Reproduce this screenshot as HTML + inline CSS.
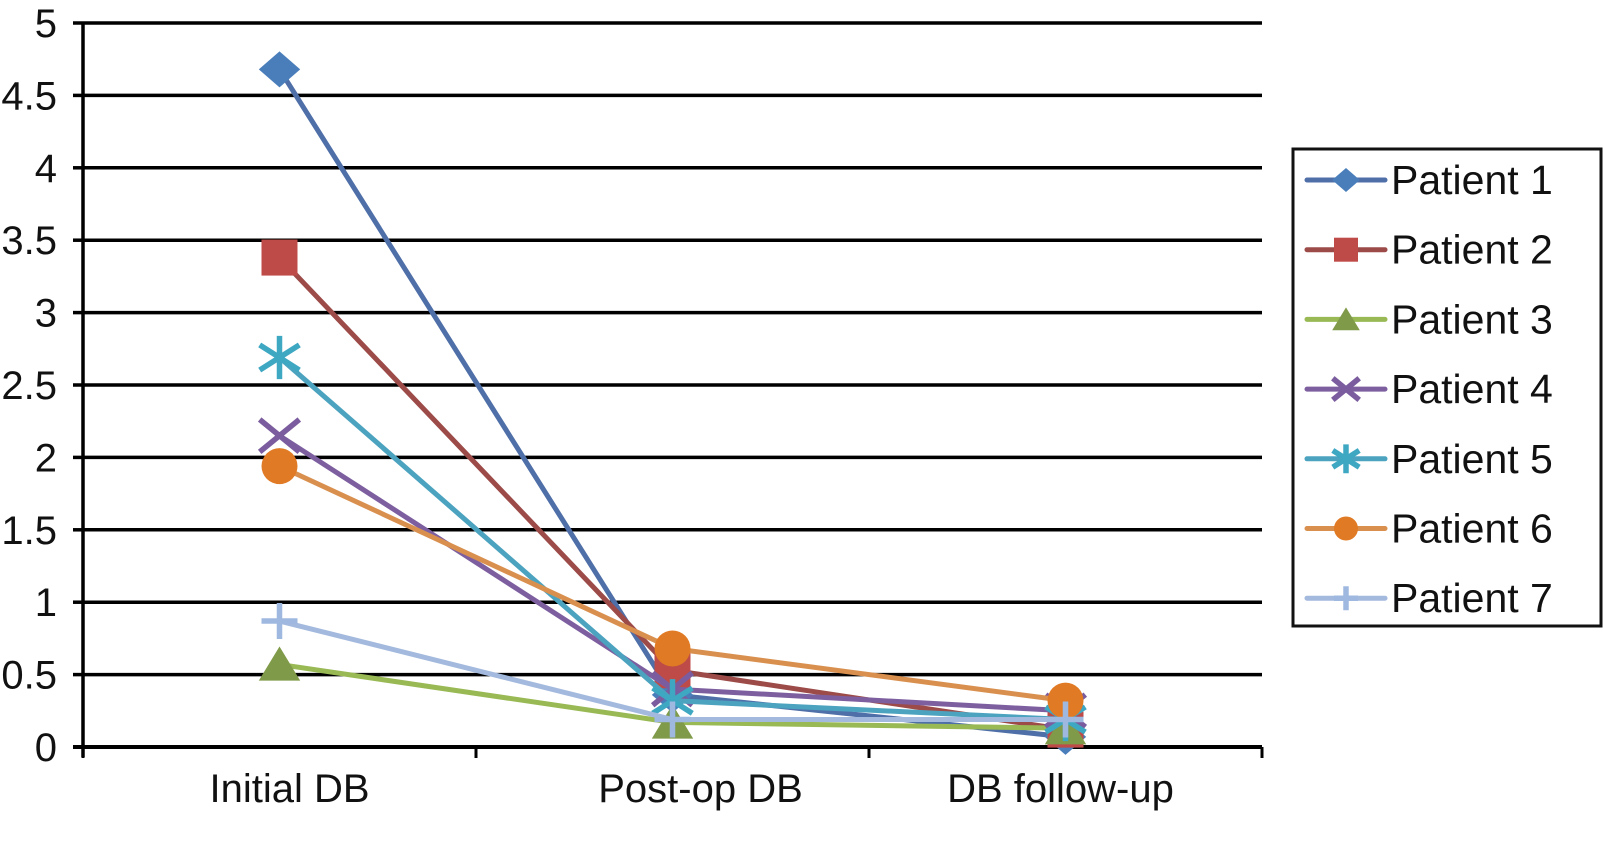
<!DOCTYPE html>
<html><head><meta charset="utf-8"><style>
html,body{margin:0;padding:0;background:#fff;}
svg{display:block;font-family:"Liberation Sans",sans-serif;}
</style></head><body>
<svg id="chart" width="1603" height="861" viewBox="0 0 1603 861" xmlns="http://www.w3.org/2000/svg">
<g id="grid"></g>
<g id="axes"></g>
<g id="series"></g>
<g id="legend"></g>
</svg>
<script>
const categories = ["Initial DB", "Post-op DB", "DB follow-up"];
const yTicks = [0, 0.5, 1, 1.5, 2, 2.5, 3, 3.5, 4, 4.5, 5];
const seriesNames = ["Patient 1","Patient 2","Patient 3","Patient 4","Patient 5","Patient 6","Patient 7"];
const patient1 = [4.68, 0.36, 0.07];
const patient2 = [3.38, 0.53, 0.12];
const patient3 = [0.57, 0.17, 0.13];
const patient4 = [2.15, 0.40, 0.25];
const patient5 = [2.69, 0.32, 0.19];
const patient6 = [1.94, 0.68, 0.32];
const patient7 = [0.87, 0.19, 0.19];

const NS = "http://www.w3.org/2000/svg";
const X0 = 83, X1 = 1262, Y0 = 747, Y5 = 23;
const yMax = 5;
function yScale(v){ return Y0 - (v / yMax) * (Y0 - Y5); }
function xScale(i){ const w = (X1 - X0) / categories.length; return X0 + w * (i + 0.5); }
function mk(tag, attrs, parent){ const e = document.createElementNS(NS, tag); for (const k in attrs) e.setAttribute(k, attrs[k]); parent.appendChild(e); return e; }

const grid = document.getElementById('grid');
const axes = document.getElementById('axes');
yTicks.forEach(t => {
  const y = yScale(t);
  if (t > 0) {
    const gl = mk('line', {x1: X0, x2: X1, y1: y, y2: y, stroke: '#000', 'stroke-width': 3.5}, grid);
    
    
  }
  const tk = mk('line', {x1: X0 - 10, x2: X0, y1: y, y2: y, stroke: '#000', 'stroke-width': 3.5}, axes);
  
  
  const lb = mk('text', {x: 57, y: y + 14, 'text-anchor': 'end', 'font-size': 40, fill: '#111'}, axes);
  lb.textContent = String(t);
  
  
});
const yAxis = mk('line', {x1: X0, x2: X0, y1: Y5, y2: Y0 + 10, stroke: '#000', 'stroke-width': 3.5}, axes);


const xAxis = mk('line', {x1: X0 - 10, x2: X1, y1: Y0, y2: Y0, stroke: '#000', 'stroke-width': 4}, axes);


for (let i = 0; i <= categories.length; i++) {
  const x = X0 + (X1 - X0) / categories.length * i;
  const t = mk('line', {x1: x, x2: x, y1: Y0, y2: Y0 + 11, stroke: '#000', 'stroke-width': 3}, axes);
  
  
}
const labelShift = [10, 28, -5];
categories.forEach((c, i) => {
  const t = mk('text', {x: xScale(i) + labelShift[i], y: Y0 + 55, 'text-anchor': 'middle', 'font-size': 40, fill: '#111'}, axes);
  t.textContent = c;
  
  
});

const allSeries = [patient1, patient2, patient3, patient4, patient5, patient6, patient7];
const lineColors = ['#4f6fa8','#9c4b48','#98b954','#7d5fa0','#4ba3bf','#d9904f','#a3b9dd'];
const markColors = ['#4a7ebb','#be4b48','#7f9a48','#7b5c9e','#3ea7c2','#e07a24','#9fb8e0'];
const markTypes = ['diamond','square','triangle','x','star','circle','plus'];

function marker(type, cx, cy, color, s, parent){
  let e;
  if (type === 'diamond') e = mk('polygon', {points: `${cx},${cy-s} ${cx+s*1.15},${cy} ${cx},${cy+s} ${cx-s*1.15},${cy}`, fill: color}, parent);
  else if (type === 'square') e = mk('rect', {x: cx - s, y: cy - s, width: 2*s, height: 2*s, fill: color}, parent);
  else if (type === 'triangle') e = mk('polygon', {points: `${cx},${cy-s} ${cx+s*1.15},${cy+s*0.9} ${cx-s*1.15},${cy+s*0.9}`, fill: color}, parent);
  else if (type === 'circle') e = mk('circle', {cx: cx, cy: cy, r: s, fill: color}, parent);
  else if (type === 'x') e = mk('path', {d: `M${cx-s*1.1},${cy-s*0.9}L${cx+s*1.1},${cy+s*0.9}M${cx+s*1.1},${cy-s*0.9}L${cx-s*1.1},${cy+s*0.9}`, stroke: color, 'stroke-width': 5.5, fill: 'none'}, parent);
  else if (type === 'star') e = mk('path', {d: `M${cx-s*1.1},${cy-s*0.7}L${cx+s*1.1},${cy+s*0.7}M${cx+s*1.1},${cy-s*0.7}L${cx-s*1.1},${cy+s*0.7}M${cx},${cy-s*1.2}L${cx},${cy+s*1.2}`, stroke: color, 'stroke-width': 5.5, fill: 'none'}, parent);
  else e = mk('path', {d: `M${cx-s},${cy}L${cx+s},${cy}M${cx},${cy-s}L${cx},${cy+s}`, stroke: color, 'stroke-width': 5.5, fill: 'none'}, parent);
  return e;
}

const sg = document.getElementById('series');
allSeries.forEach((vals, si) => {
  const g = mk('g', {}, sg);
  
  
  const pts = vals.map((v, i) => `${xScale(i)},${yScale(v)}`).join(' ');
  const pl = mk('polyline', {points: pts, fill: 'none', stroke: lineColors[si], 'stroke-width': 5, 'stroke-linejoin': 'round'}, g);
  
  
  vals.forEach((v, i) => {
    const m = marker(markTypes[si], xScale(i), yScale(v), markColors[si], 18, g);
    
    
  });
});

const lg = document.getElementById('legend');
const box = mk('rect', {x: 1293, y: 149, width: 308, height: 477, fill: '#fff', stroke: '#111', 'stroke-width': 3}, lg);


seriesNames.forEach((n, i) => {
  const y = 180 + i * 69.7;
  const g = mk('g', {}, lg);
  
  
  mk('line', {x1: 1307, x2: 1385, y1: y, y2: y, stroke: lineColors[i], 'stroke-width': 5, 'stroke-linecap': 'round'}, g);
  marker(markTypes[i], 1346, y, markColors[i], 12, g);
  const t = mk('text', {x: 1391, y: y + 14, 'font-size': 41, fill: '#111'}, g);
  t.textContent = n;
});
</script>
</body></html>
